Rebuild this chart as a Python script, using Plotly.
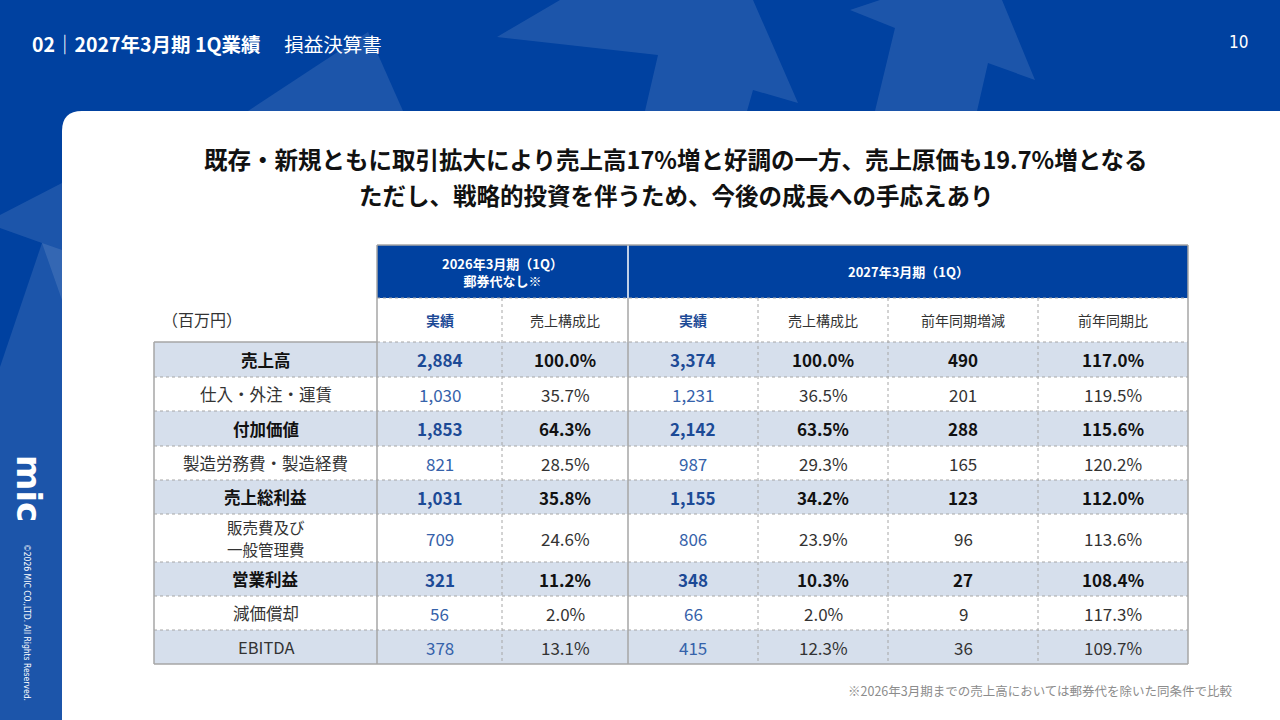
import plotly.graph_objects as go

# ---------------- data ----------------
row_labels = ["売上高", "仕入・外注・運賃", "付加価値", "製造労務費・製造経費", "売上総利益",
              "販売費及び\n一般管理費", "営業利益", "減価償却", "EBITDA"]
row_bold = [True, False, True, False, True, False, True, False, False]
row_shaded = [True, False, True, False, True, False, True, False, True]
prev_actual = [2884, 1030, 1853, 821, 1031, 709, 321, 56, 378]
prev_ratio = [100.0, 35.7, 64.3, 28.5, 35.8, 24.6, 11.2, 2.0, 13.1]
cur_actual = [3374, 1231, 2142, 987, 1155, 806, 348, 66, 415]
cur_ratio = [100.0, 36.5, 63.5, 29.3, 34.2, 23.9, 10.3, 2.0, 12.3]
yoy_diff = [490, 201, 288, 165, 123, 96, 27, 9, 36]
yoy_ratio = [117.0, 119.5, 115.6, 120.2, 112.0, 113.6, 108.4, 117.3, 109.7]

group_headers = ["2026年3月期（1Q）<br>郵券代なし※", "2027年3月期（1Q）"]
sub_headers = ["実績", "売上構成比", "実績", "売上構成比", "前年同期増減", "前年同期比"]
unit_label = "（百万円）"
page_title = "02｜2027年3月期 1Q業績"
page_subtitle = "損益決算書"
page_number = "10"
headline = ["既存・新規ともに取引拡大により売上高17%増と好調の一方、売上原価も19.7%増となる",
            "ただし、戦略的投資を伴うため、今後の成長への手応えあり"]
footnote = "※2026年3月期までの売上高においては郵券代を除いた同条件で比較"
copyright_text = "©2026 MIC CO.,LTD. All Rights Reserved."

# ---------------- layout constants ----------------
W, H = 1280, 720
BLUE = "#0041A0"
SHADE = "#D6DFEC"
GRID = "#A6A6A6"
NUM_BLUE_B = "#1C4A96"
NUM_BLUE = "#3562AA"
FONT = "Noto Sans CJK JP"

col_edges = [154, 377, 502, 628, 758, 888, 1038, 1188]
hdr_top, hdr_bot, sub_bot = 245, 298, 342
row_heights = [35, 34, 35, 34, 34, 48, 34, 34, 34]
row_edges = [sub_bot]
for h in row_heights:
    row_edges.append(row_edges[-1] + h)

shapes = []
annotations = []


def rect(x0, y0, x1, y1, color):
    shapes.append(dict(type="rect", xref="x", yref="y", x0=x0, y0=y0, x1=x1, y1=y1,
                       fillcolor=color, line=dict(width=0)))


def line(x0, y0, x1, y1, color=GRID, width=1, dash="solid"):
    shapes.append(dict(type="line", xref="x", yref="y", x0=x0, y0=y0, x1=x1, y1=y1,
                       line=dict(color=color, width=width, dash=dash)))


def text(x, y, s, size, color, bold=False, xanchor="center", angle=0, family=FONT):
    annotations.append(dict(x=x, y=y, xref="x", yref="y", text=(f"<b>{s}</b>" if bold else s),
                            showarrow=False, xanchor=xanchor, yanchor="middle", textangle=angle,
                            font=dict(family=family, size=size, color=color)))


# ---------------- background decoration ----------------
light = "rgba(255,255,255,0.11)"
arrows = [
    [(248, 111), (368, 32), (403, 111)],
    [(497, 37), (560, 0), (753, 0), (798, 103), (753, 90), (747, 111), (645, 111), (658, 55)],
    [(850, 10), (880, 0), (1002, 0), (1035, 80), (988, 63), (977, 111), (875, 111), (895, 28)],
    [(0, 215), (62, 183), (62, 300), (42, 243), (0, 228)],
    [(0, 367), (42, 243), (62, 250), (62, 720), (0, 720)],
]
for pts in arrows:
    path = "M " + " L ".join(f"{x},{y}" for x, y in pts) + " Z"
    shapes.append(dict(type="path", xref="x", yref="y", path=path, fillcolor=light, line=dict(width=0)))

# white panel with rounded top-left corner
r = 20
shapes.append(dict(type="path", xref="x", yref="y",
                   path=f"M 62,{111 + r} Q 62,111 {62 + r},111 L 1280,111 L 1280,720 L 62,720 Z",
                   fillcolor="white", line=dict(width=0)))

# ---------------- page texts ----------------
annotations.append(dict(x=30, y=43, xref="x", yref="y", showarrow=False, xanchor="left", yanchor="middle",
                        text=f"<b>{page_title}</b>　 {page_subtitle}",
                        font=dict(family=FONT, size=19.5, color="white")))
text(1250, 42, page_number, 17, "white", xanchor="right", family="DejaVu Sans Condensed")
text(29, 488, "mic", 34, "white", bold=True, angle=90, family="DejaVu Sans")
text(27, 622, copyright_text, 8.5, "white", angle=90, family="DejaVu Sans Condensed")
text(676, 159, headline[0], 23.5, "#111111", bold=True)
text(676, 195, headline[1], 23.5, "#111111", bold=True)
text(1235, 690, footnote, 12.5, "#8C8C8C", xanchor="right")

# ---------------- table ----------------
rect(col_edges[1], hdr_top, col_edges[3], hdr_bot, BLUE)
rect(col_edges[3], hdr_top, col_edges[7], hdr_bot, BLUE)
text((col_edges[1] + col_edges[3]) / 2, (hdr_top + hdr_bot) / 2, group_headers[0], 13, "white", bold=True)
text((col_edges[3] + col_edges[7]) / 2, (hdr_top + hdr_bot) / 2, group_headers[1], 13, "white", bold=True)

for i, s in enumerate(sub_headers):
    cx = (col_edges[i + 1] + col_edges[i + 2]) / 2
    is_act = s == "実績"
    text(cx, (hdr_bot + sub_bot) / 2, s, 14, NUM_BLUE_B if is_act else "#333333", bold=is_act)
text(160, (hdr_bot + sub_bot) / 2 - 1, unit_label, 16, "#333333", xanchor="left")

for i, lab in enumerate(row_labels):
    y0, y1 = row_edges[i], row_edges[i + 1]
    cy = (y0 + y1) / 2
    if row_shaded[i]:
        rect(col_edges[0], y0, col_edges[7], y1, SHADE)
    b = row_bold[i]
    vals = [f"{prev_actual[i]:,}", f"{prev_ratio[i]:.1f}%", f"{cur_actual[i]:,}",
            f"{cur_ratio[i]:.1f}%", f"{yoy_diff[i]:,}", f"{yoy_ratio[i]:.1f}%"]
    parts = lab.split("\n")
    lx = (col_edges[0] + col_edges[1]) / 2
    lc = "#111111" if b else "#333333"
    if len(parts) == 1:
        text(lx, cy, lab, 16.5, lc, bold=b)
    else:
        text(lx, cy - 11, parts[0], 15.5, lc, bold=b)
        text(lx, cy + 11, parts[1], 15.5, lc, bold=b)
    for j, v in enumerate(vals):
        cx = (col_edges[j + 1] + col_edges[j + 2]) / 2
        if j in (0, 2):
            c = NUM_BLUE_B if b else NUM_BLUE
        else:
            c = "#111111" if b else "#333333"
        text(cx, cy, v, 17, c, bold=b)

# grid lines
for x in (col_edges[2], col_edges[4], col_edges[5], col_edges[6]):
    line(x, hdr_bot, x, row_edges[-1], dash="dot")
line(col_edges[1], hdr_bot, col_edges[7], hdr_bot, dash="dot")
line(col_edges[1], sub_bot, col_edges[7], sub_bot, dash="dot")
for y in row_edges[1:-1]:
    line(col_edges[0], y, col_edges[7], y, dash="dot")
line(col_edges[3], hdr_top, col_edges[3], hdr_bot, color="white", width=1.5)
line(col_edges[1], hdr_top, col_edges[7], hdr_top, width=1.5)
line(col_edges[7], hdr_top, col_edges[7], row_edges[-1], width=1.5)
line(col_edges[0], row_edges[-1], col_edges[7], row_edges[-1], width=1.5)
line(col_edges[0], sub_bot, col_edges[0], row_edges[-1], width=1.5)
line(col_edges[0], sub_bot, col_edges[1], sub_bot, width=1.5)
line(col_edges[1], hdr_top, col_edges[1], row_edges[-1], width=1.5)
line(col_edges[3], hdr_bot, col_edges[3], row_edges[-1], width=1.5)

fig = go.Figure()
fig.add_trace(go.Scatter(x=[0, W], y=[0, H], mode="markers", marker=dict(opacity=0),
                         hoverinfo="skip", showlegend=False))
fig.update_layout(
    width=W, height=H, margin=dict(l=0, r=0, t=0, b=0),
    paper_bgcolor=BLUE, plot_bgcolor=BLUE,
    xaxis=dict(range=[0, W], visible=False, fixedrange=True),
    yaxis=dict(range=[H, 0], visible=False, fixedrange=True),
    shapes=shapes, annotations=annotations, showlegend=False,
)
fig.write_html("out.html", config={"displayModeBar": False},
               post_script="document.body.style.margin='0';document.body.style.overflow='hidden';")
